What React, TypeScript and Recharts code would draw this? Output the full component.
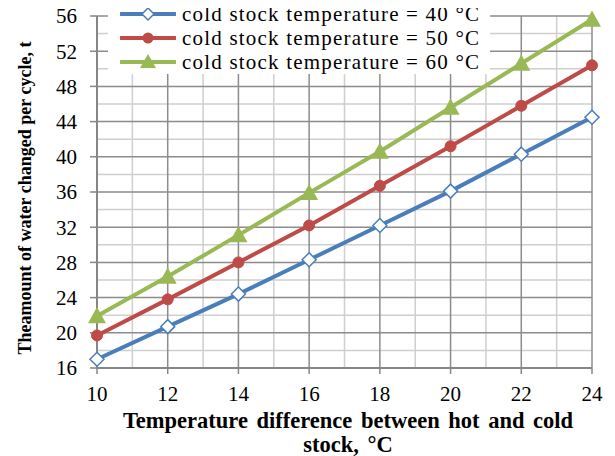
import React from "react";
import { LineChart, Line, XAxis, YAxis, ReferenceLine } from "recharts";

const xValues = [10, 12, 14, 16, 18, 20, 22, 24];
const series40 = [17.0, 20.7, 24.4, 28.3, 32.2, 36.1, 40.3, 44.5];
const series50 = [19.7, 23.8, 28.0, 32.2, 36.7, 41.2, 45.8, 50.4];
const series60 = [21.9, 26.4, 31.1, 35.9, 40.6, 45.6, 50.6, 55.6];
const xTicks = [10, 12, 14, 16, 18, 20, 22, 24];
const yTicks = [16, 20, 24, 28, 32, 36, 40, 44, 48, 52, 56];
const xMinor = [11, 13, 15, 17, 19, 21, 23];
const yMinor = [18, 22, 26, 30, 34, 38, 42, 46, 50, 54];
const names = [
  "cold stock temperature = 40 °C",
  "cold stock temperature = 50 °C",
  "cold stock temperature = 60 °C",
];

const data = xValues.map((x, i) => ({ x, a: series40[i], b: series50[i], c: series60[i] }));

const BLUE = "#4a7ebb";
const RED = "#be4b48";
const GREEN = "#98b954";
const SERIF = "'Liberation Serif', 'Times New Roman', serif";

const Diamond = (p: any) => {
  const { cx, cy } = p;
  if (cx == null || cy == null) return null;
  const s = 7;
  return (
    <path
      d={`M${cx},${cy - s}L${cx + s},${cy}L${cx},${cy + s}L${cx - s},${cy}Z`}
      fill="#fff"
      stroke={BLUE}
      strokeWidth={1.5}
    />
  );
};
const Circle = (p: any) => {
  const { cx, cy } = p;
  if (cx == null || cy == null) return null;
  return <circle cx={cx} cy={cy} r={5.5} fill={RED} stroke={RED} />;
};
const Tri = (p: any) => {
  const { cx, cy } = p;
  if (cx == null || cy == null) return null;
  const s = 9;
  return (
    <path d={`M${cx},${cy - s}L${cx + s},${cy + s * 0.8}L${cx - s},${cy + s * 0.8}Z`} fill={GREEN} />
  );
};

const LegendBox = () => {
  const items = [
    { c: BLUE, m: "d" },
    { c: RED, m: "c" },
    { c: GREEN, m: "t" },
  ];
  return (
    <div
      style={{
        position: "absolute",
        left: 108,
        top: 2,
        width: 382,
        height: 72,
        background: "#fff",
        paddingLeft: 12,
        boxSizing: "border-box",
        fontFamily: SERIF,
        fontSize: 21,
      }}
    >
      {items.map((it, i) => (
        <div key={i} style={{ display: "flex", alignItems: "center", height: 24 }}>
          <svg width={56} height={20} style={{ marginRight: 6, flex: "none" }}>
            <line x1={1} y1={10} x2={55} y2={10} stroke={it.c} strokeWidth={4} strokeLinecap="round" />
            {it.m === "d" && <path d="M28,4L34,10L28,16L22,10Z" fill="#fff" stroke={it.c} strokeWidth={1.5} />}
            {it.m === "c" && <circle cx={28} cy={10} r={5.5} fill={it.c} />}
            {it.m === "t" && <path d="M28,2L36,16L20,16Z" fill={it.c} />}
          </svg>
          <span style={{ color: "#000", whiteSpace: "nowrap", letterSpacing: 1.2 }}>{names[i]}</span>
        </div>
      ))}
    </div>
  );
};

export default function App() {
  return (
    <div style={{ width: 615, height: 456, position: "relative", margin: "-8px 0 0 -8px" }}>
      <LineChart
        width={615}
        height={456}
        data={data}
        margin={{ top: 16, right: 23, bottom: 58, left: 37 }}
      >
        {xMinor.map((v) => (
          <ReferenceLine key={"xm" + v} x={v} stroke="#cfcfcf" strokeWidth={1.5} />
        ))}
        {yMinor.map((v) => (
          <ReferenceLine key={"ym" + v} y={v} stroke="#cfcfcf" strokeWidth={1.5} />
        ))}
        {xTicks.map((v) => (
          <ReferenceLine key={"xM" + v} x={v} stroke="#8c8c8c" strokeWidth={1.5} />
        ))}
        {yTicks.map((v) => (
          <ReferenceLine key={"yM" + v} y={v} stroke="#8c8c8c" strokeWidth={1.5} />
        ))}
        <XAxis
          dataKey="x"
          type="number"
          domain={[10, 24]}
          ticks={xTicks}
          interval={0}
          axisLine={{ stroke: "#868686", strokeWidth: 2 }}
          tickLine={{ stroke: "#868686", strokeWidth: 1.5 }}
          tickSize={6}
          tick={{ fill: "#000", fontFamily: SERIF, fontSize: 21 }}
          tickMargin={12}
        />
        <YAxis
          type="number"
          domain={[16, 56]}
          ticks={yTicks}
          interval={0}
          width={60}
          axisLine={{ stroke: "#868686", strokeWidth: 2 }}
          tickLine={{ stroke: "#868686", strokeWidth: 1.5 }}
          tickSize={7}
          tick={{ fill: "#000", fontFamily: SERIF, fontSize: 21 }}
          tickMargin={13}
        />
        <Line dataKey="a" stroke={BLUE} strokeWidth={4} dot={<Diamond />} isAnimationActive={false} />
        <Line dataKey="b" stroke={RED} strokeWidth={4} dot={<Circle />} isAnimationActive={false} />
        <Line dataKey="c" stroke={GREEN} strokeWidth={4} dot={<Tri />} isAnimationActive={false} />
      </LineChart>
      <LegendBox />
      <div
        style={{
          position: "absolute",
          left: 25,
          top: 198,
          transform: "translate(-50%, -50%) rotate(-90deg)",
          whiteSpace: "nowrap",
          fontFamily: SERIF,
          fontWeight: "bold",
          fontSize: 18,
          color: "#000",
        }}
      >
        Theamount of water changed per cycle, t
      </div>
      <div
        style={{
          position: "absolute",
          left: 98,
          width: 500,
          top: 409,
          textAlign: "center",
          fontFamily: SERIF,
          fontWeight: "bold",
          fontSize: 22.5,
          lineHeight: "24px",
          color: "#000",
          wordSpacing: 3,
        }}
      >
        Temperature difference between hot and cold
        <br />
        stock, °C
      </div>
    </div>
  );
}
